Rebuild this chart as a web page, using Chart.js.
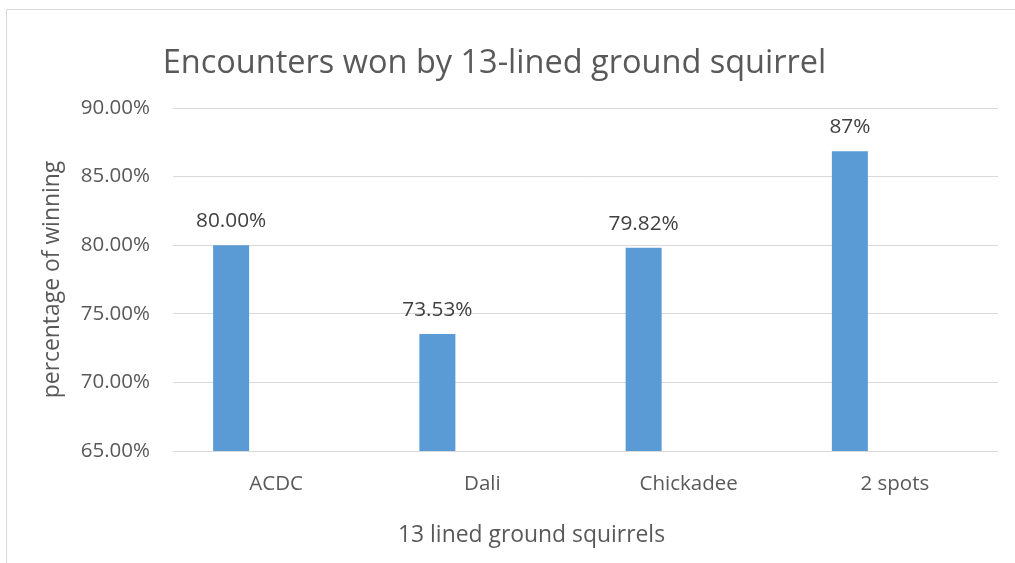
<!DOCTYPE html>
<html>
<head>
<meta charset="utf-8">
<script src="https://cdn.jsdelivr.net/npm/chart.js@4/dist/chart.umd.min.js"></script>
<style>
  html, body { margin: 0; padding: 0; background: #fff; }
  #wrap { width: 1015px; height: 563px; }
</style>
</head>
<body>
<div id="wrap"><canvas id="chart" width="1015" height="563"></canvas></div>
<script>
// chart data
const categories = ['ACDC', 'Dali', 'Chickadee', '2 spots'];
const winRates = [80.00, 73.53, 79.82, 86.85];
const emptySeries = [null, null, null, null];
const barLabels = ['80.00%', '73.53%', '79.82%', '87%'];
const yTicks = [65, 70, 75, 80, 85, 90];

const chartTitle = 'Encounters won by 13-lined ground squirrel';
const xTitle = '13 lined ground squirrels';
const yTitle = 'percentage of winning';

const FONT = "'Open Sans', 'Noto Sans', sans-serif";
const GRAY = '#595959';
const GRID = '#d9d9d9';

// frame + titles + labels above bars
const extras = {
  id: 'extras',
  beforeDraw(chart) {
    const ctx = chart.ctx;
    ctx.save();
    ctx.strokeStyle = GRID;
    ctx.lineWidth = 1;
    ctx.beginPath();
    ctx.moveTo(6.5, 563);
    ctx.lineTo(6.5, 9.5);
    ctx.lineTo(1015, 9.5);
    ctx.stroke();
    ctx.restore();
  },
  afterDraw(chart) {
    const ctx = chart.ctx;
    ctx.save();
    ctx.fillStyle = GRAY;
    ctx.textAlign = 'center';
    ctx.textBaseline = 'alphabetic';
    ctx.font = '32.5px ' + FONT;
    ctx.fillText(chartTitle, 494.5, 73);
    ctx.font = '22.9px ' + FONT;
    ctx.fillText(xTitle, 531.5, 541.5);

    // data labels
    ctx.fillStyle = '#404040';
    ctx.font = '20.8px ' + FONT;
    const meta = chart.getDatasetMeta(0);
    meta.data.forEach((bar, i) => {
      ctx.fillText(barLabels[i], bar.x, bar.y - 18);
    });
    ctx.restore();
  }
};

new Chart(document.getElementById('chart'), {
  type: 'bar',
  data: {
    labels: categories,
    datasets: [{
      data: winRates,
      backgroundColor: '#5b9bd5',
      categoryPercentage: 0.8727,
      barPercentage: 0.4
    }, {
      data: emptySeries,
      backgroundColor: '#ed7d31',
      categoryPercentage: 0.8727,
      barPercentage: 0.4
    }]
  },
  options: {
    responsive: false,
    animation: false,
    devicePixelRatio: 1,
    layout: { padding: { top: 108, right: 17, bottom: 0, left: 39 } },
    plugins: {
      legend: { display: false },
      tooltip: { enabled: false },
      title: { display: false }
    },
    scales: {
      x: {
        grid: { display: false, drawTicks: false },
        border: { display: false },
        ticks: {
          color: GRAY,
          padding: 21,
          font: { family: FONT, size: 20.5 }
        },
        afterFit(scale) { scale.height = 112; }
      },
      y: {
        min: 65,
        max: 90,
        afterBuildTicks(scale) { scale.ticks = yTicks.map(v => ({ value: v })); },
        grid: { color: GRID, lineWidth: 1, drawTicks: false },
        border: { display: false },
        ticks: {
          color: GRAY,
          padding: 23,
          font: { family: FONT, size: 20.5 },
          callback: v => v.toFixed(2) + '%'
        },
        title: {
          display: true,
          text: yTitle,
          color: GRAY,
          padding: 0,
          font: { family: FONT, size: 22.9 }
        },
        afterFit(scale) { scale.width = 134; }
      }
    }
  },
  plugins: [extras]
});
</script>
</body>
</html>
